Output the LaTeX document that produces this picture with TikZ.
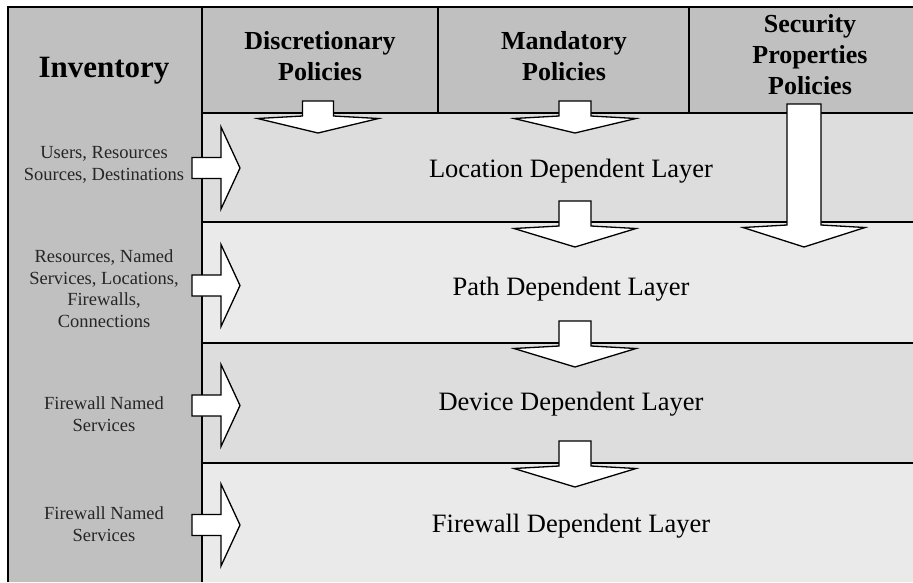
\documentclass[tikz,border=0pt]{standalone}
\usepackage{fontspec}
\setmainfont{Liberation Serif}

% block arrow pointing down: centre x, half shaft width, shaft top, shaft foot, half head width, tip y
\newcommand{\blockdown}[6]{%
  \draw[blockarrow] (#1-#2,#3) -- (#1+#2,#3) -- (#1+#2,#4) -- (#1+#5,#4+2.5)
    -- (#1,#6) -- (#1-#5,#4+2.5) -- (#1-#2,#4) -- cycle;}
% block arrow pointing right: centre y, shaft left x, head base x, tip x, half shaft height, half head height
\newcommand{\blockright}[6]{%
  \draw[blockarrow] (#2,#1-#5) -- (#3,#1-#5) -- (#3,#1-#6) -- (#4,#1)
    -- (#3,#1+#6) -- (#3,#1+#5) -- (#2,#1+#5) -- cycle;}

\definecolor{invgray}{gray}{0.753}
\definecolor{layerdark}{gray}{0.867}
\definecolor{layerlight}{gray}{0.918}

\tikzset{
  blockarrow/.style={draw=black, fill=white, line width=1.3pt, line join=miter},
  frameline/.style={draw=black, line width=1.3pt},
  heading/.style={anchor=base, inner sep=0pt, align=center,
    font=\fontsize{26}{31}\selectfont\bfseries},
  layertext/.style={anchor=base, inner sep=0pt, font=\fontsize{26.5}{30}\selectfont},
  invtext/.style={anchor=base, inner sep=0pt, align=center,
    font=\fontsize{18.5}{21.5}\selectfont, text=black!85},
}

\begin{document}
\begin{tikzpicture}[x=1pt, y=-1pt]
\useasboundingbox (0,0) rectangle (913,582);
\fill[white] (0,0) rectangle (913,582);

% background fills
\fill[invgray] (8,7) rectangle (202,582);
\fill[invgray] (202,7) rectangle (913,113);
\fill[layerdark]  (202,113) rectangle (913,222);
\fill[layerlight] (202,222) rectangle (913,343);
\fill[layerdark]  (202,343) rectangle (913,463);
\fill[layerlight] (202,463) rectangle (913,582);

% frame lines
\draw[black, line width=2.2pt] (8,582) -- (8,7) -- (913,7);
\draw[frameline] (202,7) -- (202,582);
\draw[frameline] (438,7) -- (438,113);
\draw[frameline] (689,7) -- (689,113);
\draw[frameline] (202,113) -- (913,113);
\draw[frameline] (202,222) -- (913,222);
\draw[frameline] (202,343) -- (913,343);
\draw[frameline] (202,463) -- (913,463);

% policy arrows into the location layer
\blockdown{318}{15.5}{101}{116}{60.5}{133}
\blockdown{575}{16}{101}{116}{61}{133}
% arrows between layers
\blockdown{575}{16}{201}{226}{61}{247}
\blockdown{575}{16}{321}{346}{61}{367}
\blockdown{575}{16}{441}{466}{61}{487}
% security properties arrow reaching the path layer
\blockdown{804}{17}{104}{225}{61}{247}

% inventory arrows
\blockright{168}{192}{221}{240}{10.5}{41}
\blockright{285.5}{192}{221}{240}{10.5}{41}
\blockright{405.5}{192}{221}{240}{10.5}{41}
\blockright{525}{192}{221}{240}{10.5}{41}

% headings (base anchor sits on the last line)
\node[anchor=base, inner sep=0pt, font=\fontsize{31}{36}\selectfont\bfseries] (inv) at (104,77) {Inventory};
\node[heading] (disc) at (320,80) {Discretionary\\Policies};
\node[heading] (mand) at (564,80) {Mandatory\\Policies};
\node[heading] (secp) at (810,94) {Security\\Properties\\Policies};

% layer names
\node[layertext] (loc)  at (571,177) {Location Dependent Layer};
\node[layertext] (path) at (571,295) {Path Dependent Layer};
\node[layertext] (dev)  at (571,410) {Device Dependent Layer};
\node[layertext] (fw)   at (571,532) {Firewall Dependent Layer};

% inventory items
\node[invtext] (inv1) at (104,180) {Users, Resources\\Sources, Destinations};
\node[invtext] (inv2) at (104,327) {Resources, Named\\Services, Locations,\\Firewalls,\\Connections};
\node[invtext] (inv3) at (104,431) {Firewall Named\\Services};
\node[invtext] (inv4) at (104,541) {Firewall Named\\Services};
\end{tikzpicture}
\end{document}
